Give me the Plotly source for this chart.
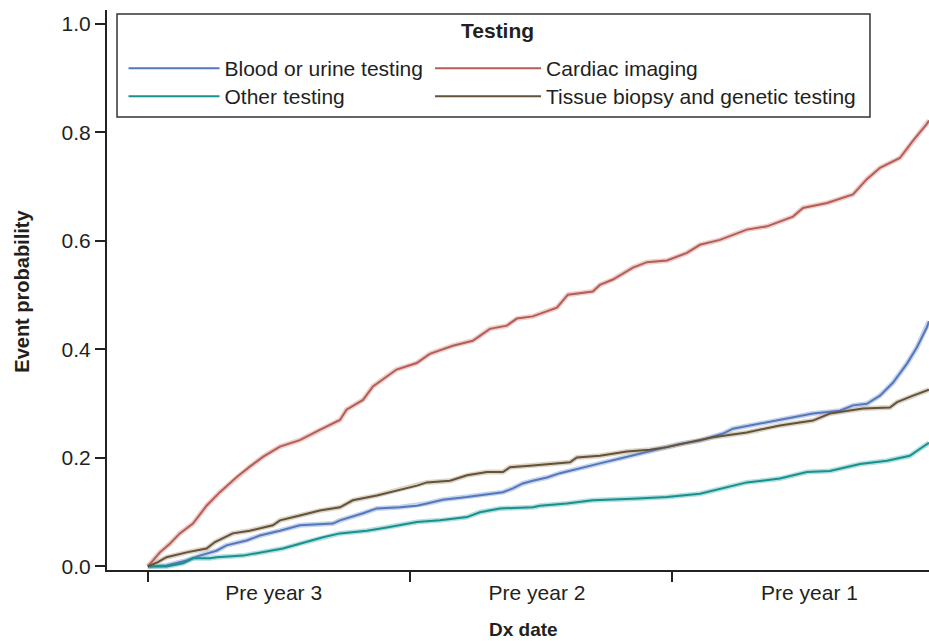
import plotly.graph_objects as go

# ---- data (years relative to diagnosis, cumulative event probability) ----
blood_x = [-3.0, -2.929, -2.852, -2.802, -2.738, -2.700, -2.623, -2.573, -2.496, -2.420,
           -2.294, -2.267, -2.179, -2.126, -2.038, -1.973, -1.935, -1.874, -1.782, -1.706,
           -1.645, -1.607, -1.569, -1.531, -1.477, -1.427, -1.363, -1.275, -1.198, -1.122,
           -1.046, -0.969, -0.893, -0.805, -0.767, -0.637, -0.550, -0.462, -0.359, -0.309,
           -0.256, -0.206, -0.156, -0.103, -0.065, -0.027, -0.019]
blood_y = [0.0, 0.002, 0.011, 0.020, 0.029, 0.039, 0.048, 0.057, 0.066, 0.076,
           0.079, 0.085, 0.098, 0.107, 0.109, 0.112, 0.116, 0.123, 0.128, 0.133,
           0.137, 0.144, 0.153, 0.158, 0.164, 0.172, 0.180, 0.190, 0.199, 0.208,
           0.217, 0.226, 0.232, 0.245, 0.254, 0.266, 0.273, 0.282, 0.287, 0.297,
           0.300, 0.315, 0.339, 0.374, 0.404, 0.441, 0.452]

cardiac_x = [-3.0, -2.954, -2.916, -2.878, -2.828, -2.776, -2.725, -2.661, -2.611, -2.561,
             -2.496, -2.420, -2.344, -2.267, -2.242, -2.179, -2.141, -2.089, -2.051, -1.974,
             -1.924, -1.836, -1.760, -1.733, -1.695, -1.630, -1.592, -1.531, -1.439, -1.397,
             -1.302, -1.275, -1.225, -1.149, -1.095, -1.019, -0.943, -0.893, -0.817, -0.714,
             -0.637, -0.538, -0.500, -0.408, -0.309, -0.256, -0.206, -0.130, -0.080, -0.027,
             -0.019]
cardiac_y = [0.0, 0.026, 0.042, 0.061, 0.079, 0.112, 0.137, 0.165, 0.184, 0.202,
             0.221, 0.233, 0.252, 0.270, 0.289, 0.307, 0.332, 0.350, 0.363, 0.375,
             0.392, 0.407, 0.416, 0.425, 0.438, 0.444, 0.457, 0.461, 0.477, 0.501,
             0.507, 0.519, 0.529, 0.551, 0.561, 0.564, 0.578, 0.593, 0.602, 0.621,
             0.627, 0.645, 0.661, 0.670, 0.686, 0.714, 0.735, 0.753, 0.785, 0.816,
             0.822]

other_x = [-3.0, -2.929, -2.866, -2.828, -2.763, -2.738, -2.637, -2.573, -2.485, -2.420,
           -2.332, -2.267, -2.164, -2.088, -1.973, -1.885, -1.782, -1.733, -1.656, -1.531,
           -1.504, -1.401, -1.302, -1.149, -1.019, -0.893, -0.844, -0.714, -0.588, -0.485,
           -0.397, -0.282, -0.179, -0.092, -0.053, -0.023, -0.019]
other_y = [0.0, 0.0, 0.006, 0.015, 0.015, 0.017, 0.020, 0.026, 0.033, 0.042,
           0.054, 0.061, 0.066, 0.072, 0.082, 0.085, 0.091, 0.100, 0.107, 0.109,
           0.112, 0.116, 0.122, 0.125, 0.128, 0.134, 0.140, 0.155, 0.162, 0.174,
           0.176, 0.189, 0.195, 0.204, 0.217, 0.226, 0.228]

tissue_x = [-3.0, -2.962, -2.929, -2.852, -2.776, -2.744, -2.676, -2.611, -2.523, -2.496,
            -2.420, -2.344, -2.267, -2.218, -2.126, -2.076, -2.011, -1.973, -1.935, -1.847,
            -1.782, -1.706, -1.645, -1.618, -1.531, -1.427, -1.389, -1.363, -1.275, -1.172,
            -1.084, -1.019, -0.943, -0.893, -0.844, -0.714, -0.588, -0.462, -0.397, -0.271,
            -0.168, -0.141, -0.080, -0.023, -0.019]
tissue_y = [0.0, 0.008, 0.017, 0.026, 0.033, 0.045, 0.061, 0.066, 0.076, 0.085,
            0.094, 0.103, 0.109, 0.122, 0.131, 0.137, 0.144, 0.149, 0.155, 0.158,
            0.168, 0.174, 0.174, 0.183, 0.186, 0.190, 0.192, 0.201, 0.204, 0.212,
            0.215, 0.220, 0.227, 0.233, 0.238, 0.247, 0.260, 0.269, 0.282, 0.291,
            0.293, 0.303, 0.315, 0.325, 0.326]

series_names = ["Blood or urine testing", "Cardiac imaging", "Other testing",
                "Tissue biopsy and genetic testing"]
legend_slot = ["legend", "legend2", "legend3", "legend4"]
y_ticks = [0.0, 0.2, 0.4, 0.6, 0.8, 1.0]
x_boundaries = [-3, -2, -1]
x_label_pos = [-2.52, -1.515, -0.475]
x_labels = ["Pre year 3", "Pre year 2", "Pre year 1"]

core_colors = ["#5577bb", "#b55d56", "#17918f", "#64523a"]
halo_colors = ["rgba(150,175,220,0.55)", "rgba(220,165,160,0.55)",
               "rgba(120,195,195,0.55)", "rgba(190,175,150,0.55)"]

FONT = "Liberation Sans, Arial, sans-serif"
TXT = "#231f20"

fig = go.Figure()
data = [(blood_x, blood_y), (cardiac_x, cardiac_y), (other_x, other_y), (tissue_x, tissue_y)]
for (xs, ys), hc in zip(data, halo_colors):
    fig.add_trace(go.Scatter(x=xs, y=ys, mode="lines", line=dict(color=hc, width=5),
                             showlegend=False, hoverinfo="skip"))
for (xs, ys), name, cc, lg in zip(data, series_names, core_colors, legend_slot):
    fig.add_trace(go.Scatter(x=xs, y=ys, mode="lines", name=name, legend=lg,
                             line=dict(color=cc, width=2)))

legend_common = dict(
    orientation="v", yanchor="top", xanchor="left",
    bgcolor="rgba(0,0,0,0)", borderwidth=0, traceorder="normal",
    font=dict(family=FONT, size=21, color=TXT),
)
row1_y, row2_y = 0.9321, 0.882
col1_x, col2_x = 0.0201, 0.393

fig.update_layout(
    width=929, height=641,
    margin=dict(l=107, r=0, t=10, b=71),
    paper_bgcolor="white", plot_bgcolor="white",
    font=dict(family=FONT, size=21, color=TXT),
    legend=dict(x=col1_x, y=row1_y, itemwidth=91, **legend_common),
    legend2=dict(x=col2_x, y=row1_y, itemwidth=106, **legend_common),
    legend3=dict(x=col1_x, y=row2_y, itemwidth=91, **legend_common),
    legend4=dict(x=col2_x, y=row2_y, itemwidth=106, **legend_common),
    shapes=[dict(type="rect", xref="paper", yref="paper",
                 x0=0.0122, x1=0.9282, y0=0.8088, y1=0.9929,
                 line=dict(color="#333", width=1.5), fillcolor="white", layer="above")],
    annotations=[
        dict(text="<b>Testing</b>", xref="paper", yref="paper", x=0.4745, y=0.9625,
             xanchor="center", yanchor="middle", showarrow=False,
             font=dict(family=FONT, size=21, color=TXT)),
        dict(text="<b>Dx date</b>", xref="paper", yref="paper", x=0.507, y=-0.1055,
             xanchor="center", yanchor="middle", showarrow=False,
             font=dict(family=FONT, size=19, color=TXT)),
        dict(text="<b>Event probability</b>", xref="paper", yref="paper", x=-0.1034, y=0.497,
             xanchor="center", yanchor="middle", showarrow=False, textangle=-90,
             font=dict(family=FONT, size=20, color=TXT)),
    ],
    xaxis=dict(
        range=[-3.156, -0.019], automargin=False,
        showline=True, linecolor="#222", linewidth=2,
        showgrid=False, zeroline=False,
        tickmode="array", tickvals=x_label_pos, ticktext=x_labels,
        ticks="outside", ticklen=3, tickcolor="rgba(0,0,0,0)",
        tickfont=dict(family=FONT, size=21, color=TXT),
        minor=dict(tickmode="array", tickvals=x_boundaries, ticks="outside",
                   ticklen=10, tickwidth=2, tickcolor="#222", showgrid=False),
    ),
    yaxis=dict(
        range=[-0.0065, 1.0258], automargin=False,
        showline=True, linecolor="#222", linewidth=2,
        showgrid=False, zeroline=False,
        tickmode="array", tickvals=y_ticks, tickformat=".1f",
        ticks="outside", ticklen=10, tickwidth=2, tickcolor="#222",
        tickfont=dict(family=FONT, size=21, color=TXT),
    ),
)

# remove the default 8px page margin so the figure sits at the window's top-left corner
fig.write_html("out.html",
               config={"displayModeBar": False},
               post_script="document.body.style.margin='0';document.body.style.padding='0';")
